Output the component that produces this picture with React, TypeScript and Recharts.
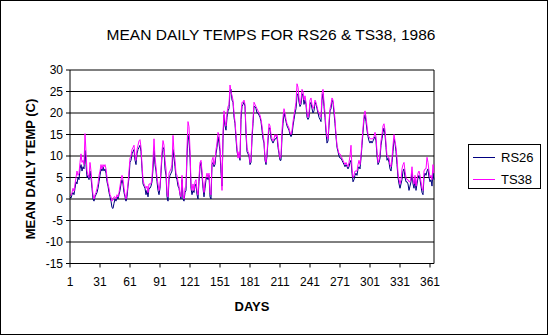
import React from 'react';
import { LineChart, Line, XAxis, YAxis, CartesianGrid, ReferenceLine } from 'recharts';

// daily means, day 1..365
const rs26 = [
  0.5, 0.2, 1.0, 1.5, 1.0, 2.5, 4.0, 3.5, 5.0, 4.5,
  7.0, 8.0, 6.5, 7.5, 7.0, 11.3, 8.0, 5.0, 5.5, 4.5,
  6.5, 5.0, 2.5, 0.0, -0.5, 0.5, 1.0, 1.5, 2.5, 4.0,
  5.5, 7.0, 6.5, 7.5, 6.5, 7.0, 6.0, 4.0, 3.0, 1.5,
  0.5, -0.5, -2.0, -2.2, -1.0, 0.0, -0.5, 0.5, 0.0, 1.0,
  2.0, 3.5, 4.5, 3.5, 1.5, 0.5, -0.5, 0.5, 3.0, 5.0,
  8.5, 9.0, 10.5, 11.0, 11.5, 9.0, 8.0, 10.5, 11.5, 12.0,
  12.5, 11.0, 7.0, 3.5, 3.0, 2.5, 1.0, 2.0, 0.5, 2.5,
  2.5, 3.0, 4.0, 7.0, 11.3, 8.0, 6.5, 4.0, 2.0, 1.0,
  2.5, 6.0, 10.0, 12.0, 11.5, 7.0, 5.5, 0.5, -0.5, 4.5,
  5.5, 6.0, 6.5, 11.5, 9.5, 7.5, 5.0, 4.5, 3.0, 2.5,
  1.0, 0.0, 4.5, 0.0, -0.5, 1.5, 2.0, 10.0, 14.8, 13.5,
  10.0, 2.5, 1.0, 2.0, 1.5, 3.0, 3.5, 1.0, 0.0, 4.0,
  7.5, 8.5, 5.5, 2.5, 0.5, 2.5, 4.5, 5.0, 4.5, 5.5,
  0.5, 0.0, 8.0, 8.5, 7.5, 8.0, 10.5, 12.0, 14.5, 13.0,
  11.0, 6.0, 3.0, 14.0, 19.5, 17.0, 16.0, 19.0, 20.5, 21.0,
  25.0, 25.5, 23.0, 22.5, 19.0, 17.5, 14.0, 11.0, 10.0, 10.5,
  9.0, 18.5, 21.5, 22.0, 22.5, 21.5, 15.0, 11.0, 10.5, 10.0,
  8.0, 8.5, 14.0, 17.5, 21.5, 21.5, 21.0, 20.0, 20.0, 19.5,
  19.0, 18.0, 16.0, 14.0, 13.0, 9.0, 8.0, 10.0, 13.5, 16.5,
  16.5, 14.0, 13.5, 13.0, 13.5, 14.0, 14.0, 14.5, 12.0, 10.5,
  9.0, 9.0, 14.5, 17.5, 20.0, 19.0, 18.0, 17.0, 16.5, 16.0,
  15.0, 14.5, 15.0, 17.0, 18.5, 20.0, 21.0, 24.0, 24.5, 22.5,
  21.5, 22.0, 24.5, 24.0, 22.0, 23.0, 22.0, 19.0, 18.5, 19.0,
  22.0, 22.5, 21.0, 20.0, 20.5, 22.5, 22.0, 21.0, 20.0, 19.0,
  18.5, 18.0, 23.0, 24.5, 21.5, 19.0, 15.5, 13.0, 13.5, 17.0,
  20.5, 21.0, 23.0, 22.5, 20.0, 17.5, 14.5, 12.0, 11.0, 10.0,
  9.5, 9.5, 9.0, 8.5, 8.0, 7.5, 8.0, 7.5, 7.0, 7.5,
  8.5, 9.0, 6.0, 4.0, 4.5, 5.5, 6.0, 5.5, 7.0, 7.5,
  7.0, 9.5, 12.5, 15.5, 18.5, 19.5, 18.0, 16.0, 14.5, 13.5,
  13.0, 13.5, 13.0, 13.5, 14.0, 14.5, 13.5, 10.0, 8.0, 8.5,
  9.5, 12.5, 14.0, 15.5, 16.5, 15.0, 12.0, 9.0, 9.5, 8.5,
  7.0, 6.5, 8.5, 11.0, 14.0, 13.0, 11.0, 8.0, 5.0, 3.5,
  2.5, 3.5, 4.5, 6.5, 7.0, 5.0, 4.0, 4.0, 3.5, 2.0,
  3.0, 4.0, 6.0, 3.5, 2.5, 4.5, 2.0, 3.5, 5.0, 5.5,
  4.5, 3.0, 1.5, 1.0, 5.0, 6.0, 5.5, 6.5, 7.0, 5.0,
  4.0, 4.5, 3.0, 6.0, 4.5,
];

const ts38 = [
  1.0, 0.8, 1.5, 2.5, 1.8, 3.5, 5.0, 6.5, 5.5, 6.0,
  8.5, 10.5, 8.5, 9.0, 8.0, 15.2, 11.0, 6.5, 5.5, 5.0,
  8.5, 6.5, 3.5, 1.0, 0.0, 1.0, 1.5, 2.5, 3.5, 5.5,
  6.5, 8.0, 7.0, 8.0, 7.5, 8.0, 7.0, 5.0, 3.5, 2.5,
  1.0, 0.5, -0.5, 0.0, 0.5, 0.5, 0.0, 1.0, 0.5, 1.5,
  3.0, 4.5, 5.5, 4.5, 2.5, 1.0, 0.0, 1.5, 3.5, 6.5,
  9.5, 10.0, 11.5, 12.0, 12.5, 10.0, 9.0, 11.5, 12.5, 13.5,
  13.8, 12.0, 8.0, 4.5, 3.5, 3.0, 2.5, 3.0, 1.5, 3.5,
  3.5, 3.5, 5.0, 9.0, 14.0, 9.7, 7.5, 5.0, 3.5, 2.0,
  3.0, 7.0, 11.0, 13.6, 12.5, 9.0, 7.0, 1.5, 0.5, 6.0,
  6.5, 7.0, 8.0, 14.8, 11.0, 9.0, 6.0, 5.5, 4.0, 3.0,
  1.0, 0.5, 5.5, 1.0, 0.0, 2.5, 3.0, 12.0, 18.0, 16.8,
  11.5, 3.5, 2.0, 3.5, 2.0, 4.0, 4.5, 2.0, 1.0, 5.0,
  8.5, 9.0, 6.5, 3.5, 1.5, 4.0, 5.0, 6.0, 5.0, 6.0,
  1.5, 1.0, 9.0, 9.7, 8.0, 9.0, 11.5, 13.0, 15.5, 15.0,
  12.0, 8.0, 2.0, 15.5, 20.5, 18.0, 17.0, 20.0, 21.5, 22.0,
  26.5, 25.0, 24.0, 23.0, 20.0, 18.0, 15.0, 12.0, 9.5, 11.0,
  9.5, 20.0, 22.5, 22.5, 23.0, 22.0, 16.0, 12.0, 11.0, 10.5,
  8.5, 9.0, 15.0, 18.5, 22.5, 22.0, 21.5, 21.0, 20.5, 20.0,
  19.5, 18.5, 17.0, 15.0, 13.5, 9.5, 8.5, 10.5, 14.5, 17.5,
  17.0, 15.0, 14.0, 13.5, 14.0, 15.0, 14.5, 15.0, 13.0, 11.0,
  9.5, 10.0, 16.0, 19.0, 21.0, 20.0, 18.5, 17.5, 17.0, 16.5,
  15.5, 15.0, 16.0, 18.0, 19.5, 21.0, 22.5, 26.8, 26.0, 23.5,
  22.0, 23.0, 25.5, 25.0, 23.0, 24.0, 22.5, 20.0, 19.0, 20.0,
  23.0, 23.5, 22.0, 21.0, 21.5, 23.0, 22.5, 21.5, 20.5, 20.0,
  19.5, 19.0, 24.5, 25.5, 22.5, 20.0, 16.5, 14.5, 14.0, 18.0,
  21.0, 22.0, 23.5, 23.0, 21.0, 18.5, 15.0, 12.5, 11.5, 10.5,
  10.5, 10.0, 9.5, 9.0, 8.5, 8.0, 8.5, 8.0, 7.5, 8.5,
  10.0, 12.5, 7.0, 5.0, 5.5, 6.5, 6.5, 6.5, 8.0, 9.0,
  8.0, 10.0, 13.5, 16.5, 19.5, 20.5, 19.0, 17.0, 15.0, 14.5,
  14.0, 14.0, 14.0, 14.0, 14.5, 15.5, 14.5, 11.0, 8.5, 9.0,
  10.5, 13.5, 15.0, 17.0, 17.5, 16.0, 13.0, 10.0, 10.0, 9.5,
  8.0, 7.5, 9.5, 12.5, 15.0, 13.5, 12.0, 9.5, 6.0, 4.5,
  3.5, 4.5, 7.0, 8.0, 8.5, 6.5, 5.0, 4.5, 4.5, 4.0,
  4.0, 5.0, 7.5, 4.5, 3.5, 5.5, 3.0, 4.5, 6.0, 6.5,
  5.5, 4.0, 2.5, 2.0, 6.5, 7.0, 7.0, 9.7, 8.5, 6.5,
  5.0, 5.5, 4.5, 8.0, 6.0,
];

const xTicks = [1, 31, 61, 91, 121, 151, 181, 211, 241, 271, 301, 331, 361];
const yTicks = [-15, -10, -5, 0, 5, 10, 15, 20, 25, 30];

const seriesInfo = [
  { key: 'RS26', color: '#000080' },
  { key: 'TS38', color: '#FF00FF' },
];

const font = '"Liberation Sans", Arial, sans-serif';

const data = rs26.map((v, i) => ({ day: i + 1, RS26: v, TS38: ts38[i] }));

export default function App() {
  return (
    <div style={{ position: 'absolute', left: 0, top: 0, width: 550, height: 336, background: '#fff', fontFamily: font }}>
      <div style={{ position: 'absolute', left: 0, top: 0, width: 548, height: 335, border: '1px solid #000', boxSizing: 'border-box' }} />
      <div style={{ position: 'absolute', left: 0, width: 542, top: 26, textAlign: 'center', fontSize: 15.5, color: '#000' }}>
        MEAN DAILY TEMPS FOR RS26 &amp; TS38, 1986
      </div>
      <div style={{
        position: 'absolute', left: 30, top: 169, transform: 'translate(-50%, -50%) rotate(-90deg)',
        whiteSpace: 'nowrap', fontSize: 13, fontWeight: 'bold',
      }}>
        MEAN DAILY TEMP (C)
      </div>
      <div style={{ position: 'absolute', left: 252, top: 306, transform: 'translate(-50%, -50%)', fontSize: 13, fontWeight: 'bold' }}>
        DAYS
      </div>

      <LineChart width={550} height={336} data={data} margin={{ top: 70, right: 116, bottom: 42.5, left: 0 }}>
        <CartesianGrid vertical={false} stroke="#000" strokeWidth={1} />
        <XAxis
          dataKey="day" type="number" domain={[1, 365]} ticks={xTicks} height={30}
          tick={{ fontSize: 12, fill: '#000', fontFamily: font }}
          axisLine={{ stroke: '#000' }} tickLine={{ stroke: '#000' }} tickSize={4} tickMargin={10}
        />
        <YAxis
          type="number" domain={[-15, 30]} ticks={yTicks} width={70} interval={0}
          tick={{ fontSize: 12, fill: '#000', fontFamily: font }}
          axisLine={{ stroke: '#000' }} tickLine={{ stroke: '#000' }} tickSize={4} tickMargin={3}
        />
        <ReferenceLine x={365} stroke="#000" />
        {seriesInfo.map(s => (
          <Line key={s.key} type="linear" dataKey={s.key} stroke={s.color} strokeWidth={1} dot={false} isAnimationActive={false} />
        ))}
      </LineChart>

      <div style={{ position: 'absolute', left: 468, top: 144, width: 73, height: 45, border: '1px solid #000', boxSizing: 'border-box', background: '#fff' }}>
        {seriesInfo.map((s, i) => (
          <div key={s.key} style={{ position: 'absolute', left: 4, top: 4 + i * 22, height: 16, display: 'flex', alignItems: 'center' }}>
            <div style={{ width: 22, height: 1, background: s.color }} />
            <span style={{ marginLeft: 6, fontSize: 13, color: '#000' }}>{s.key}</span>
          </div>
        ))}
      </div>
    </div>
  );
}
